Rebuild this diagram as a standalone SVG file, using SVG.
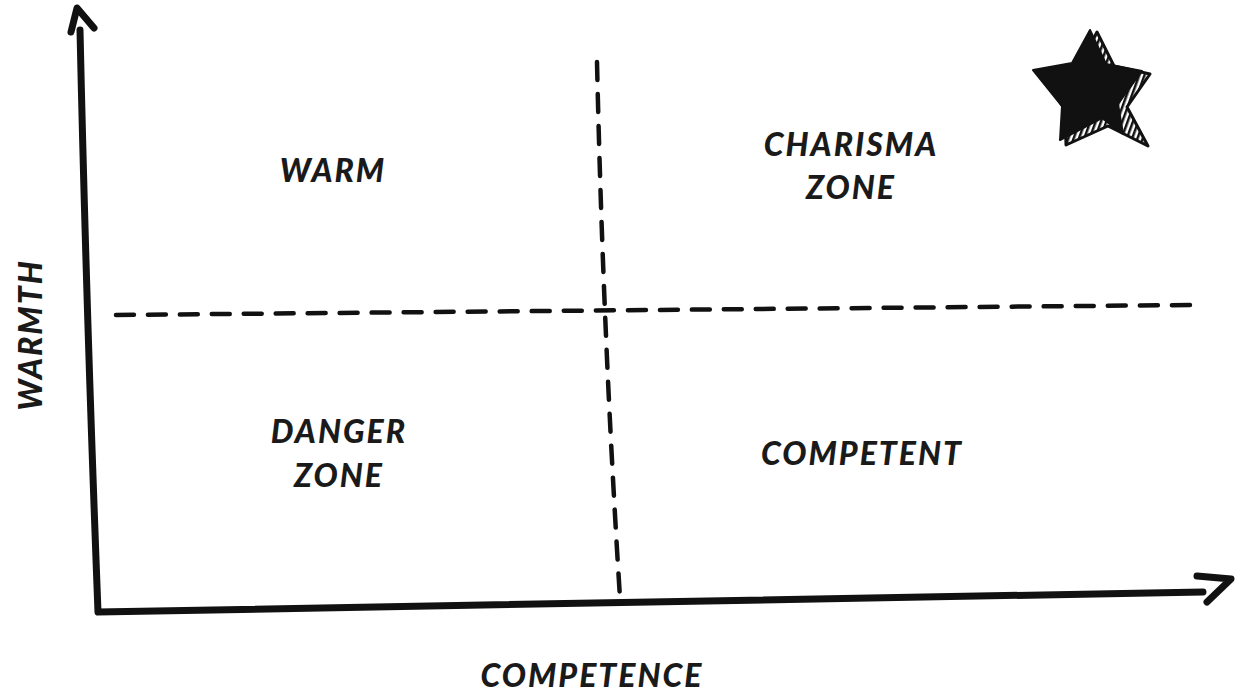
<svg xmlns="http://www.w3.org/2000/svg" width="1240" height="693" viewBox="0 0 1240 693">
<style>
.ax{fill:none;stroke:#111;stroke-width:7;stroke-linecap:round;stroke-linejoin:round}
.dash{fill:none;stroke:#111;stroke-width:4.5;stroke-dasharray:18 14;stroke-linecap:round}
.t{font-family:"Lato","Liberation Sans",sans-serif;font-weight:900;font-style:italic;font-size:32px;fill:#1a1a1a;text-anchor:middle;letter-spacing:2px}
</style>
<defs>
<pattern id="stripes" width="5" height="5" patternUnits="userSpaceOnUse" patternTransform="rotate(20)">
<rect width="5" height="5" fill="#fff"/><rect width="2.5" height="5" fill="#111"/>
</pattern>
</defs>
<rect width="1240" height="693" fill="#fff"/>
<g id="connectors">
<path class="ax" d="M80,30 Q86,300 98,612 Q650,602 1203,592"/>
<path class="ax" d="M71,32 L77,8 L94,28"/>
<path class="ax" d="M1197,576 L1231,579 L1207,602"/>
<path class="dash" d="M597,62 Q603,330 620,598"/>
<path class="dash" d="M116,315 Q650,310 1190,305"/>
</g>
<g id="star">
<polygon points="1097,32 1114,66 1150,74 1127,107 1148,146 1108,126 1066,145 1065,110 1040,72 1079,66" fill="url(#stripes)" stroke="#111" stroke-width="3" stroke-linejoin="round"/>
<polygon points="1090,30 1106,64 1142,71 1118,104 1123,134 1102,118 1060,140 1062,106 1033,70 1072,63" fill="#111" stroke="#111" stroke-width="2" stroke-linejoin="round"/>
</g>
<g id="warm"><text class="t" x="333" y="182">WARM</text></g>
<g id="charisma"><text class="t" x="851" y="156">CHARISMA</text><text class="t" x="851" y="199">ZONE</text></g>
<g id="danger"><text class="t" x="339" y="443">DANGER</text><text class="t" x="339" y="487">ZONE</text></g>
<g id="competent"><text class="t" x="862" y="465">COMPETENT</text></g>
<g id="competence"><text class="t" x="592" y="687">COMPETENCE</text></g>
<g id="warmth"><text class="t" transform="translate(42,335) rotate(-90)">WARMTH</text></g>
</svg>
